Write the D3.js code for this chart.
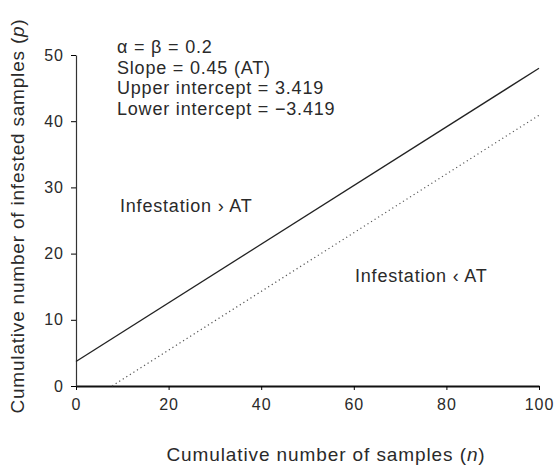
<!DOCTYPE html>
<html>
<head>
<meta charset="utf-8">
<script src="https://cdn.jsdelivr.net/npm/d3@7"></script>
<style>
body { margin: 0; background: #fff; }
svg text { font-family: "Liberation Sans", Arial, sans-serif; fill: #2a2a2a; }
</style>
</head>
<body>
<div id="chart"></div>
<script>
// values
var xTicks = [0, 20, 40, 60, 80, 100];
var yTicks = [0, 10, 20, 30, 40, 50];
var upperLine = [{n: 0, p: 3.7}, {n: 100, p: 48.0}];
var lowerLine = [{n: 7.8, p: 0}, {n: 100, p: 40.9}];
var notes = ["\u03b1 = \u03b2 = 0.2", "Slope = 0.45 (AT)", "Upper intercept = 3.419", "Lower intercept = \u22123.419"];

var width = 559, height = 470;
var margin = {left: 76, right: 20, top: 55, bottom: 84};

var svg = d3.select("#chart").append("svg")
	.attr("width", width)
	.attr("height", height);

var xScale = d3.scaleLinear().domain([0, 100]).range([margin.left, width - margin.right]);
var yScale = d3.scaleLinear().domain([0, 50]).range([height - margin.bottom, margin.top]);
var zeroline = yScale(0);

var xAxis = svg.append("g")
	.attr("transform", "translate(0," + zeroline + ")")
	.call(d3.axisBottom(xScale).tickValues(xTicks).tickSize(4).tickPadding(9).tickSizeOuter(0));
xAxis.select(".domain").attr("stroke", "#111").attr("stroke-width", 2);
xAxis.selectAll("text").style("font-size", "16px").style("letter-spacing", "1px");

var yAxis = svg.append("g")
	.attr("transform", "translate(" + margin.left + ",0)")
	.call(d3.axisLeft(yScale).tickValues(yTicks).tickSize(5).tickPadding(7).tickSizeOuter(0));
yAxis.select(".domain").attr("stroke", "#333").attr("stroke-width", 1.2);
yAxis.selectAll("text").style("font-size", "16px").style("letter-spacing", "1px");

var line = d3.line()
	.x(function(d){ return xScale(d.n); })
	.y(function(d){ return yScale(d.p); });

svg.append("path")
	.datum(upperLine)
	.attr("d", line)
	.attr("fill", "none")
	.attr("stroke", "#222")
	.attr("stroke-width", 1.3);

svg.append("path")
	.datum(lowerLine)
	.attr("d", line)
	.attr("fill", "none")
	.attr("stroke", "#555")
	.attr("stroke-width", 1.2)
	.attr("stroke-dasharray", "1.2,3");

svg.append("g")
	.selectAll("text")
	.data(notes)
	.enter()
	.append("text")
	.attr("x", 117)
	.attr("y", function(d, i){ return 53 + i * 20.5; })
	.style("font-size", "18px")
	.style("letter-spacing", "0.8px")
	.text(function(d){ return d; });

svg.append("text")
	.attr("x", 120)
	.attr("y", 212)
	.style("font-size", "18px")
	.style("letter-spacing", "0.8px")
	.text("Infestation \u203a AT");

svg.append("text")
	.attr("x", 355)
	.attr("y", 282)
	.style("font-size", "18px")
	.style("letter-spacing", "0.8px")
	.text("Infestation \u2039 AT");

svg.append("text")
	.attr("text-anchor", "middle")
	.attr("x", 326)
	.attr("y", 461)
	.style("font-size", "19px")
	.style("letter-spacing", "0.9px")
	.html("Cumulative number of samples (<tspan font-style='italic'>n</tspan>)");

svg.append("text")
	.attr("text-anchor", "middle")
	.attr("transform", "translate(24,216) rotate(-90)")
	.style("font-size", "19px")
	.style("letter-spacing", "0.8px")
	.html("Cumulative number of infested samples (<tspan font-style='italic'>p</tspan>)");
</script>
</body>
</html>
